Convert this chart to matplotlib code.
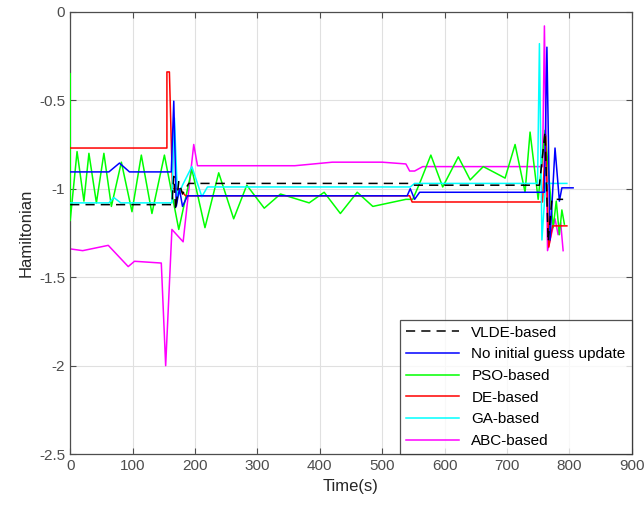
import matplotlib.pyplot as plt

plt.rcParams['font.family'] = ['Liberation Sans', 'DejaVu Sans']

# Hamiltonian histories, (time, value) pairs per method
vlde_t = [0, 163, 166, 169, 174, 180, 190, 545, 550, 752, 761, 766, 772, 790]
vlde_h = [-1.09, -1.09, -0.93, -1.12, -0.96, -1.03, -0.97, -0.97, -0.98, -0.98, -0.68, -1.30, -1.06, -1.06]

noupd_t = [0, 62, 79, 95, 162, 166, 170, 175, 180, 188, 540, 545, 552, 560, 760, 764, 769, 777, 784, 788, 806]
noupd_h = [-0.905, -0.905, -0.855, -0.905, -0.905, -0.505, -1.10, -1.00, -1.10, -1.04, -1.04, -1.00, -1.06, -1.02, -1.02, -0.20, -1.29, -0.77, -1.07, -0.995, -0.995]

pso_t = [0, 0, 11, 22, 30, 42, 54, 66, 82, 99, 114, 131, 151, 174, 195, 216, 238, 262, 283, 311, 337,
         383, 407, 433, 460, 485, 538, 549, 560, 578, 597, 622, 641, 662, 681, 697, 713, 729, 737, 750,
         761, 774, 779, 784, 788, 792]
pso_h = [-0.35, -1.18, -0.79, -1.07, -0.80, -1.08, -0.80, -1.10, -0.85, -1.13, -0.81, -1.14, -0.81, -1.23, -0.89, -1.22, -0.91, -1.17, -0.98, -1.11, -1.03,
         -1.08, -1.02, -1.14, -1.02, -1.10, -1.06, -1.06, -0.97, -0.81, -0.99, -0.82, -0.95, -0.875, -0.91, -0.94, -0.75, -1.02, -0.68, -1.06,
         -0.67, -1.22, -1.07, -1.26, -1.12, -1.20]

de_t = [0, 155, 155, 159, 164, 175, 185, 544, 548, 757, 762, 767, 773, 796]
de_h = [-0.77, -0.77, -0.34, -0.34, -1.00, -1.00, -1.04, -1.04, -1.075, -1.075, -0.70, -1.33, -1.21, -1.21]

ga_t = [0, 62, 70, 81, 163, 167, 172, 180, 195, 211, 220, 545, 552, 749, 752, 756, 762, 796]
ga_h = [-1.08, -1.08, -1.05, -1.08, -1.08, -0.60, -1.05, -0.98, -0.875, -1.045, -0.99, -0.99, -0.97, -0.97, -0.18, -1.29, -0.97, -0.97]

abc_t = [0, 20, 61, 93, 103, 146, 153, 163, 181, 198, 204, 360, 420, 500, 538, 544, 552, 565, 757, 760, 765, 777, 782, 786, 790]
abc_h = [-1.34, -1.35, -1.32, -1.44, -1.41, -1.42, -2.00, -1.23, -1.30, -0.75, -0.87, -0.87, -0.85, -0.85, -0.86, -0.90, -0.90, -0.875, -0.875, -0.08, -1.35, -1.17, -1.26, -1.19, -1.35]

fig = plt.figure(figsize=(6.44, 5.12), dpi=100)
ax = fig.add_axes([0.109, 0.113, 0.872, 0.864])

ax.plot(vlde_t, vlde_h, color='black', linestyle=(0, (6, 4)), lw=1.1, label='VLDE-based', zorder=7)
ax.plot(noupd_t, noupd_h, color='#0000ff', lw=1.1, label='No initial guess update', zorder=6)
ax.plot(pso_t, pso_h, color='#00ff00', lw=1.1, label='PSO-based', zorder=3)
ax.plot(de_t, de_h, color='#ff0000', lw=1.1, label='DE-based', zorder=4)
ax.plot(ga_t, ga_h, color='#00ffff', lw=1.1, label='GA-based', zorder=5)
ax.plot(abc_t, abc_h, color='#ff00ff', lw=1.1, label='ABC-based', zorder=2)

ax.set_xlim(0, 900)
ax.set_ylim(-2.5, 0)
ax.set_xticks(range(0, 901, 100))
ax.set_yticks([-2.5, -2, -1.5, -1, -0.5, 0])
ax.set_yticklabels(['-2.5', '-2', '-1.5', '-1', '-0.5', '0'])
ax.grid(True, color='#e0e0e0', lw=0.8)
ax.set_axisbelow(True)
ax.tick_params(direction='in', top=True, right=True, labelsize=11, colors='#4d4d4d', length=4)
for s in ax.spines.values():
    s.set_color('#4d4d4d')
    s.set_linewidth(0.9)

ax.set_xlabel('Time(s)', fontsize=12, color='#262626')
ax.set_ylabel('Hamiltonian', fontsize=12, color='#262626')

leg = ax.legend(loc='lower right', fontsize=11, frameon=True, fancybox=False,
                borderaxespad=0, handlelength=3.5, labelspacing=0.5, edgecolor='#262626')
leg.get_frame().set_linewidth(0.9)

fig.savefig('out.png', dpi=100)
